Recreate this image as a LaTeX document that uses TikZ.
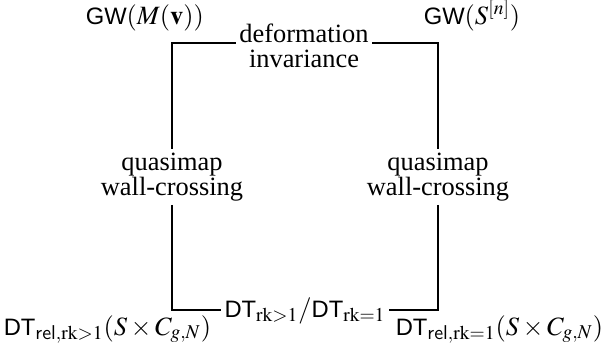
\documentclass[tikz,border=0pt]{standalone}
\usepackage{mathptmx}
\usepackage{fontspec}
\setmainfont{Liberation Serif}
\setsansfont{Liberation Sans}[Scale=0.9]
\begin{document}
\begin{tikzpicture}[x=0.5pt,y=-0.5pt,line width=0.8pt,
  every node/.style={font=\fontsize{13.2}{12.5}\selectfont},
  lbl/.style={align=center,inner sep=1.5pt},
  corner/.style={anchor=base west,inner sep=0pt}]
\useasboundingbox (0,0) rectangle (610,355);
\coordinate (tl) at (172,43);
\coordinate (tr) at (438,43);
\coordinate (bl) at (172,310);
\coordinate (br) at (438,310);
\node[lbl] (def) at (304,46) {deformation\\invariance};
\node[lbl] (ql) at (172,177) {quasimap\\wall-crossing};
\node[lbl] (qr) at (438,177) {quasimap\\wall-crossing};
\node[lbl] (dt) at (305,311) {\textsf{DT}$_{\mathrm{rk}>1}/$\textsf{DT}$_{\mathrm{rk}=1}$};
\node[corner] (gwm) at (85,24) {\textsf{GW}$(M(\mathbf{v}))$};
\node[corner] (gws) at (423,24) {\textsf{GW}$(S^{[n]})$};
\node[corner] (dtl) at (3,335) {\textsf{DT}$_{\mathsf{rel},\mathrm{rk}>1}(S\times C_{g,N})$};
\node[corner] (dtr) at (395,335) {\textsf{DT}$_{\mathsf{rel},\mathrm{rk}=1}(S\times C_{g,N})$};
\draw (def.west |- tl) -- (tl) -- (ql.north);
\draw (ql.south) -- (bl) -- (dt.west |- bl);
\draw (def.east |- tr) -- (tr) -- (qr.north);
\draw (qr.south) -- (br) -- (dt.east |- br);
\end{tikzpicture}
\end{document}
